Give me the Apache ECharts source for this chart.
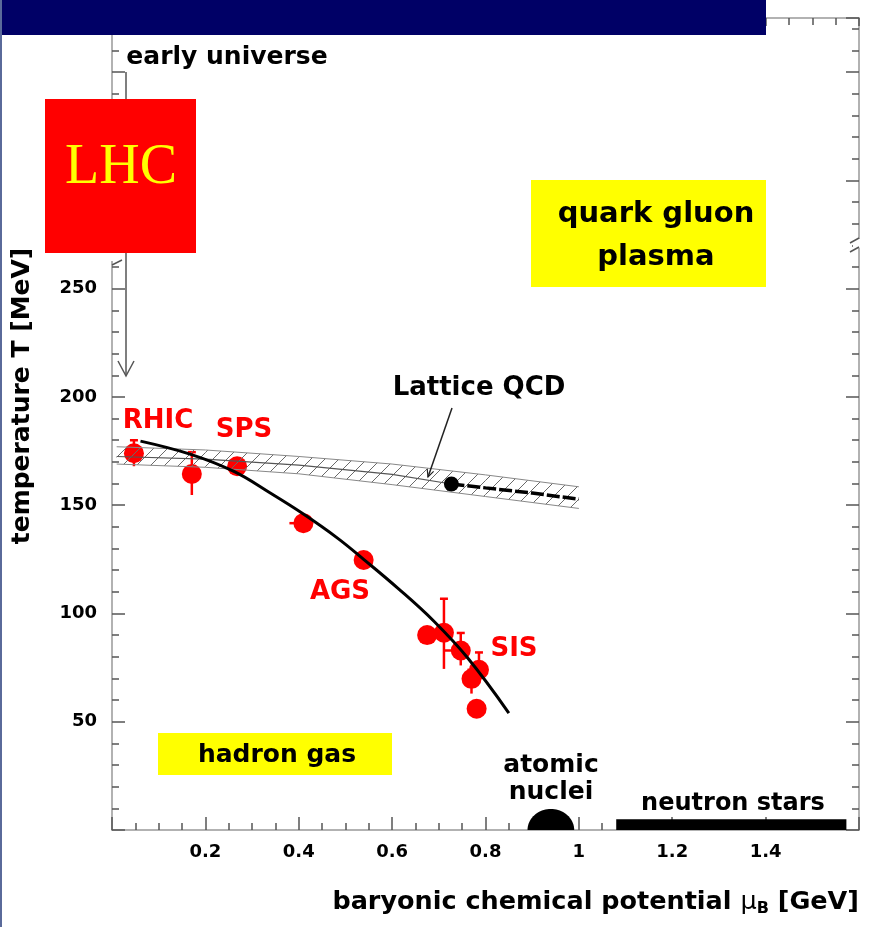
<!DOCTYPE html>
<html>
<head>
<meta charset="utf-8">
<script src="https://cdn.jsdelivr.net/npm/echarts@6/dist/echarts.min.js"></script>
<style>
html, body { margin: 0; padding: 0; background: #fff; }
#main { width: 871px; height: 927px; }
</style>
</head>
<body>
<div id="main"></div>
<script>
// freeze-out points, mu_B in GeV and T in MeV
var pointMu = [0.047, 0.171, 0.268, 0.41, 0.539, 0.675, 0.711, 0.747, 0.786, 0.77, 0.781];
var pointT  = [174, 164.4, 168, 141.7, 124.7, 90, 91.1, 82.9, 74, 69.8, 56];
var errLo   = [168, 154.7, 165, 139.5, 122.5, 90, 74.4, 76, 68, 63, 56];
var errHi   = [180, 174.5, 171, 144, 127, 90, 106.8, 91, 82, 74, 56];
var xErrLo  = [0.047, 0.171, 0.268, 0.38, 0.539, 0.675, 0.711, 0.71, 0.786, 0.77, 0.781];

// freeze-out curve
var curveMu = [0.061, 0.167, 0.26, 0.339, 0.41, 0.483, 0.539, 0.612, 0.689, 0.762, 0.85];
var curveT  = [179.6, 173.6, 165.7, 155.6, 145.9, 134.8, 125, 111.7, 96.5, 79.4, 54];

// lattice QCD band
var bandMu = [0.01, 0.2, 0.4, 0.6, 0.8, 1.0];
var bandHi = [177, 175.5, 172.5, 169, 164, 158.5];
var bandLo = [169, 167.5, 164.5, 159.5, 154, 148.5];
var centerMu = [0.01, 0.2, 0.4, 0.6, 0.727];
var centerT  = [172.5, 171.3, 168.5, 164.2, 159.8];
var latticeMu = [0.727, 0.8, 0.9, 1.0];
var latticeT  = [159.8, 158, 155.6, 152.8];
var latticePoint = [0.727, 159.8];

// atomic nuclei [mu, half width, height] and neutron stars [from, to, height]
var nuclei = [0.94, 0.05, 9.7];
var neutronStars = [1.08, 1.573, 5];

var xLabels = [0.2, 0.4, 0.6, 0.8, 1, 1.2, 1.4];
var yLabels = [50, 100, 150, 200, 250];

var FONT = '"DejaVu Sans", "Liberation Sans", sans-serif';
var RED = '#ff0000';

var hatch = document.createElement('canvas');
hatch.width = 14;
hatch.height = 14;
var hctx = hatch.getContext('2d');
hctx.strokeStyle = '#6a6a6a';
hctx.lineWidth = 1;
hctx.beginPath();
hctx.moveTo(-1, 15); hctx.lineTo(15, -1);
hctx.stroke();

function pairs(xs, ys) {
    return xs.map(function (x, i) { return [x, ys[i]]; });
}

function txt(text, x, y, size, color, extra) {
    var st = {
        text: text, x: x, y: y,
        font: 'bold ' + size + 'px ' + FONT,
        fill: color || '#000',
        align: 'center', verticalAlign: 'middle',
        textAlign: 'center', textVerticalAlign: 'middle'
    };
    return Object.assign({ type: 'text', z: 110, style: st }, extra || {});
}

var chart = echarts.init(document.getElementById('main'));

function axisLine() { return { onZero: false, lineStyle: { color: '#999', width: 1.5 } }; }
function tick(len) { return { inside: true, length: len, lineStyle: { color: '#555', width: 1.5 } }; }
function minor(n) { return { show: true, splitNumber: n, length: 7, lineStyle: { color: '#555', width: 1.5 } }; }

var option = {
    animation: false,
    backgroundColor: '#fff',
    grid: { left: 112, right: 12, top: 18, bottom: 97 },
    xAxis: [{
        type: 'value', min: 0, max: 1.6, interval: 0.2, position: 'bottom',
        axisLine: axisLine(), axisTick: tick(13), minorTick: minor(4),
        splitLine: { show: false },
        axisLabel: {
            margin: 13, color: '#000', fontFamily: FONT, fontWeight: 'bold', fontSize: 18,
            formatter: function (v) { return xLabels.indexOf(+v.toFixed(1)) >= 0 ? String(+v.toFixed(1)) : ''; }
        },
        name: 'baryonic chemical potential {mu|μ}{sub|B} [GeV]',
        nameLocation: 'end', nameGap: 0,
        nameTextStyle: {
            align: 'right', verticalAlign: 'top', padding: [57, 0, 0, 0],
            color: '#000', fontFamily: FONT, fontWeight: 'bold', fontSize: 25.5,
            rich: {
                mu: { fontFamily: FONT, fontWeight: 'normal', fontSize: 25.5, color: '#000' },
                sub: { fontFamily: FONT, fontWeight: 'bold', fontSize: 16, color: '#000', padding: [14, 0, 0, 0] }
            }
        }
    }, {
        type: 'value', min: 0, max: 1.6, interval: 0.2, position: 'top',
        axisLine: axisLine(), axisTick: tick(8), minorTick: minor(4),
        splitLine: { show: false }, axisLabel: { show: false }
    }],
    yAxis: [{
        type: 'value', min: 0, max: 375, interval: 50, position: 'left',
        axisLine: axisLine(), axisTick: tick(13), minorTick: minor(5),
        splitLine: { show: false },
        axisLabel: {
            margin: 15, color: '#000', fontFamily: FONT, fontWeight: 'bold', fontSize: 18,
            formatter: function (v) { return yLabels.indexOf(v) >= 0 ? String(v) : ''; }
        },
        name: 'temperature T [MeV]',
        nameLocation: 'middle', nameGap: 77, nameRotate: 90,
        nameTextStyle: {
            color: '#000', fontFamily: FONT, fontWeight: 'bold', fontSize: 25,
            padding: [0, 0, 0, 56]
        }
    }, {
        type: 'value', min: 0, max: 375, interval: 50, position: 'right',
        axisLine: axisLine(), axisTick: tick(13), minorTick: minor(5),
        splitLine: { show: false }, axisLabel: { show: false }
    }],
    graphic: [
        // slide banner and border
        { type: 'rect', z: 100, shape: { x: 0, y: 0, width: 766, height: 35 }, style: { fill: '#000066' } },
        { type: 'rect', z: 100, shape: { x: 0, y: 0, width: 2, height: 927 }, style: { fill: '#5a6a9a' } },
        // axis breaks
        { type: 'rect', z: 90, shape: { x: 106, y: 253, width: 12, height: 8 }, style: { fill: '#fff' } },
        { type: 'line', z: 91, shape: { x1: 112, y1: 265, x2: 122, y2: 260 }, style: { stroke: '#555', lineWidth: 1.5 } },
        { type: 'rect', z: 90, shape: { x: 853, y: 239, width: 12, height: 9 }, style: { fill: '#fff' } },
        { type: 'line', z: 91, shape: { x1: 850, y1: 243, x2: 859, y2: 238 }, style: { stroke: '#555', lineWidth: 1.5 } },
        { type: 'line', z: 91, shape: { x1: 850, y1: 252, x2: 859, y2: 247 }, style: { stroke: '#555', lineWidth: 1.5 } },
        // early universe arrow
        { type: 'polyline', z: 95, shape: { points: [[126, 72], [126, 375]] }, style: { stroke: '#555', lineWidth: 1.5, fill: null } },
        { type: 'polyline', z: 95, shape: { points: [[118, 361], [126, 376], [134, 361]] }, style: { stroke: '#555', lineWidth: 1.5, fill: null } },
        { type: 'rect', z: 96, shape: { x: 122, y: 40, width: 210, height: 30 }, style: { fill: '#fff' } },
        txt('early universe', 227, 57, 25, '#000'),
        // LHC box
        { type: 'rect', z: 100, shape: { x: 45, y: 99, width: 151, height: 154 }, style: { fill: '#ff0000' } },
        {
            type: 'text', z: 110,
            style: {
                text: 'LHC', x: 121, y: 168, font: '56px "Liberation Serif", serif', fill: '#ffff00',
                align: 'center', verticalAlign: 'middle', textAlign: 'center', textVerticalAlign: 'middle'
            }
        },
        // quark gluon plasma
        { type: 'rect', z: 100, shape: { x: 531, y: 180, width: 235, height: 107 }, style: { fill: '#ffff00' } },
        txt('quark gluon', 656, 214, 29, '#000'),
        txt('plasma', 656, 257, 29, '#000'),
        // hadron gas
        { type: 'rect', z: 100, shape: { x: 158, y: 733, width: 234, height: 42 }, style: { fill: '#ffff00' } },
        txt('hadron gas', 277, 755, 25, '#000'),
        // lattice arrow
        { type: 'polyline', z: 95, shape: { points: [[452, 408], [428, 477]] }, style: { stroke: '#222', lineWidth: 1.5, fill: null } },
        { type: 'polyline', z: 95, shape: { points: [[433.6, 471.3], [428, 477], [427.2, 469]] }, style: { stroke: '#222', lineWidth: 1.2, fill: null } },
        txt('Lattice QCD', 479, 388, 26, '#000'),
        // experiment labels
        txt('RHIC', 158, 421, 26, RED),
        txt('SPS', 244, 430, 26, RED),
        txt('AGS', 340, 592, 26, RED),
        txt('SIS', 514, 649, 26, RED),
        // bottom labels
        txt('atomic', 551, 765, 25, '#000'),
        txt('nuclei', 551, 792, 25, '#000'),
        txt('neutron stars', 733, 804, 24, '#000')
    ],
    series: [
        {
            name: 'error bars', type: 'custom', z: 2,
            data: pointMu.map(function (m, i) { return [m, pointT[i], errLo[i], errHi[i], xErrLo[i]]; }),
            renderItem: function (params, api) {
                var m = api.value(0), t = api.value(1);
                var top = api.coord([m, api.value(3)]);
                var bot = api.coord([m, api.value(2)]);
                var left = api.coord([api.value(4), t]);
                var c = api.coord([m, t]);
                var st = { stroke: RED, lineWidth: 2.5 };
                return {
                    type: 'group',
                    children: [
                        { type: 'line', shape: { x1: top[0], y1: top[1], x2: bot[0], y2: bot[1] }, style: st },
                        { type: 'line', shape: { x1: top[0] - 4, y1: top[1], x2: top[0] + 4, y2: top[1] }, style: st },
                        { type: 'line', shape: { x1: left[0], y1: left[1], x2: c[0], y2: c[1] }, style: st }
                    ]
                };
            }
        },
        {
            name: 'freeze-out', type: 'scatter', z: 2,
            symbol: 'circle', symbolSize: 20,
            itemStyle: { color: RED, opacity: 1 },
            data: pairs(pointMu, pointT)
        },
        {
            name: 'lattice band', type: 'custom', z: 3,
            data: bandMu.map(function (m, i) { return [m, bandLo[i], bandHi[i]]; }),
            renderItem: function (params, api) {
                var i = params.dataIndex;
                if (i >= bandMu.length - 1) return null;
                var p = [
                    api.coord([bandMu[i], bandHi[i]]),
                    api.coord([bandMu[i + 1], bandHi[i + 1]]),
                    api.coord([bandMu[i + 1], bandLo[i + 1]]),
                    api.coord([bandMu[i], bandLo[i]])
                ];
                return {
                    type: 'polygon',
                    shape: { points: p },
                    style: { fill: { image: hatch, repetition: 'repeat' }, stroke: null }
                };
            }
        },
        {
            name: 'band upper', type: 'line', z: 3, symbol: 'none',
            lineStyle: { color: '#888', width: 1 },
            data: pairs(bandMu, bandHi)
        },
        {
            name: 'band lower', type: 'line', z: 3, symbol: 'none',
            lineStyle: { color: '#888', width: 1 },
            data: pairs(bandMu, bandLo)
        },
        {
            name: 'band center', type: 'line', z: 3, symbol: 'none',
            lineStyle: { color: '#555', width: 1.2 },
            data: pairs(centerMu, centerT)
        },
        {
            name: 'lattice', type: 'line', z: 4, symbol: 'none',
            lineStyle: { color: '#000', width: 3.5, type: [13, 3] },
            data: pairs(latticeMu, latticeT)
        },
        {
            name: 'lattice point', type: 'scatter', z: 4,
            symbolSize: 15, itemStyle: { color: '#000', opacity: 1 },
            data: [latticePoint]
        },
        {
            name: 'curve', type: 'line', z: 5, symbol: 'none', smooth: 0.4,
            lineStyle: { color: '#000', width: 3 },
            data: pairs(curveMu, curveT)
        },
        {
            name: 'nuclei', type: 'custom', z: 4,
            data: [nuclei],
            renderItem: function (params, api) {
                var c = api.coord([api.value(0), 0]);
                var rx = api.coord([api.value(0) + api.value(1), 0])[0] - c[0];
                var ry = c[1] - api.coord([api.value(0), api.value(2)])[1];
                var pts = [];
                for (var k = 0; k <= 40; k++) {
                    var a = Math.PI * k / 40;
                    pts.push([c[0] + rx * Math.cos(a), c[1] - ry * Math.sin(a)]);
                }
                return { type: 'polygon', shape: { points: pts }, style: { fill: '#000' } };
            }
        },
        {
            name: 'neutron stars', type: 'custom', z: 4,
            data: [neutronStars],
            renderItem: function (params, api) {
                var a = api.coord([api.value(0), api.value(2)]);
                var b = api.coord([api.value(1), 0]);
                return { type: 'rect', shape: { x: a[0], y: a[1], width: b[0] - a[0], height: b[1] - a[1] }, style: { fill: '#000' } };
            }
        }
    ]
};

chart.setOption(option);
</script>
</body>
</html>
